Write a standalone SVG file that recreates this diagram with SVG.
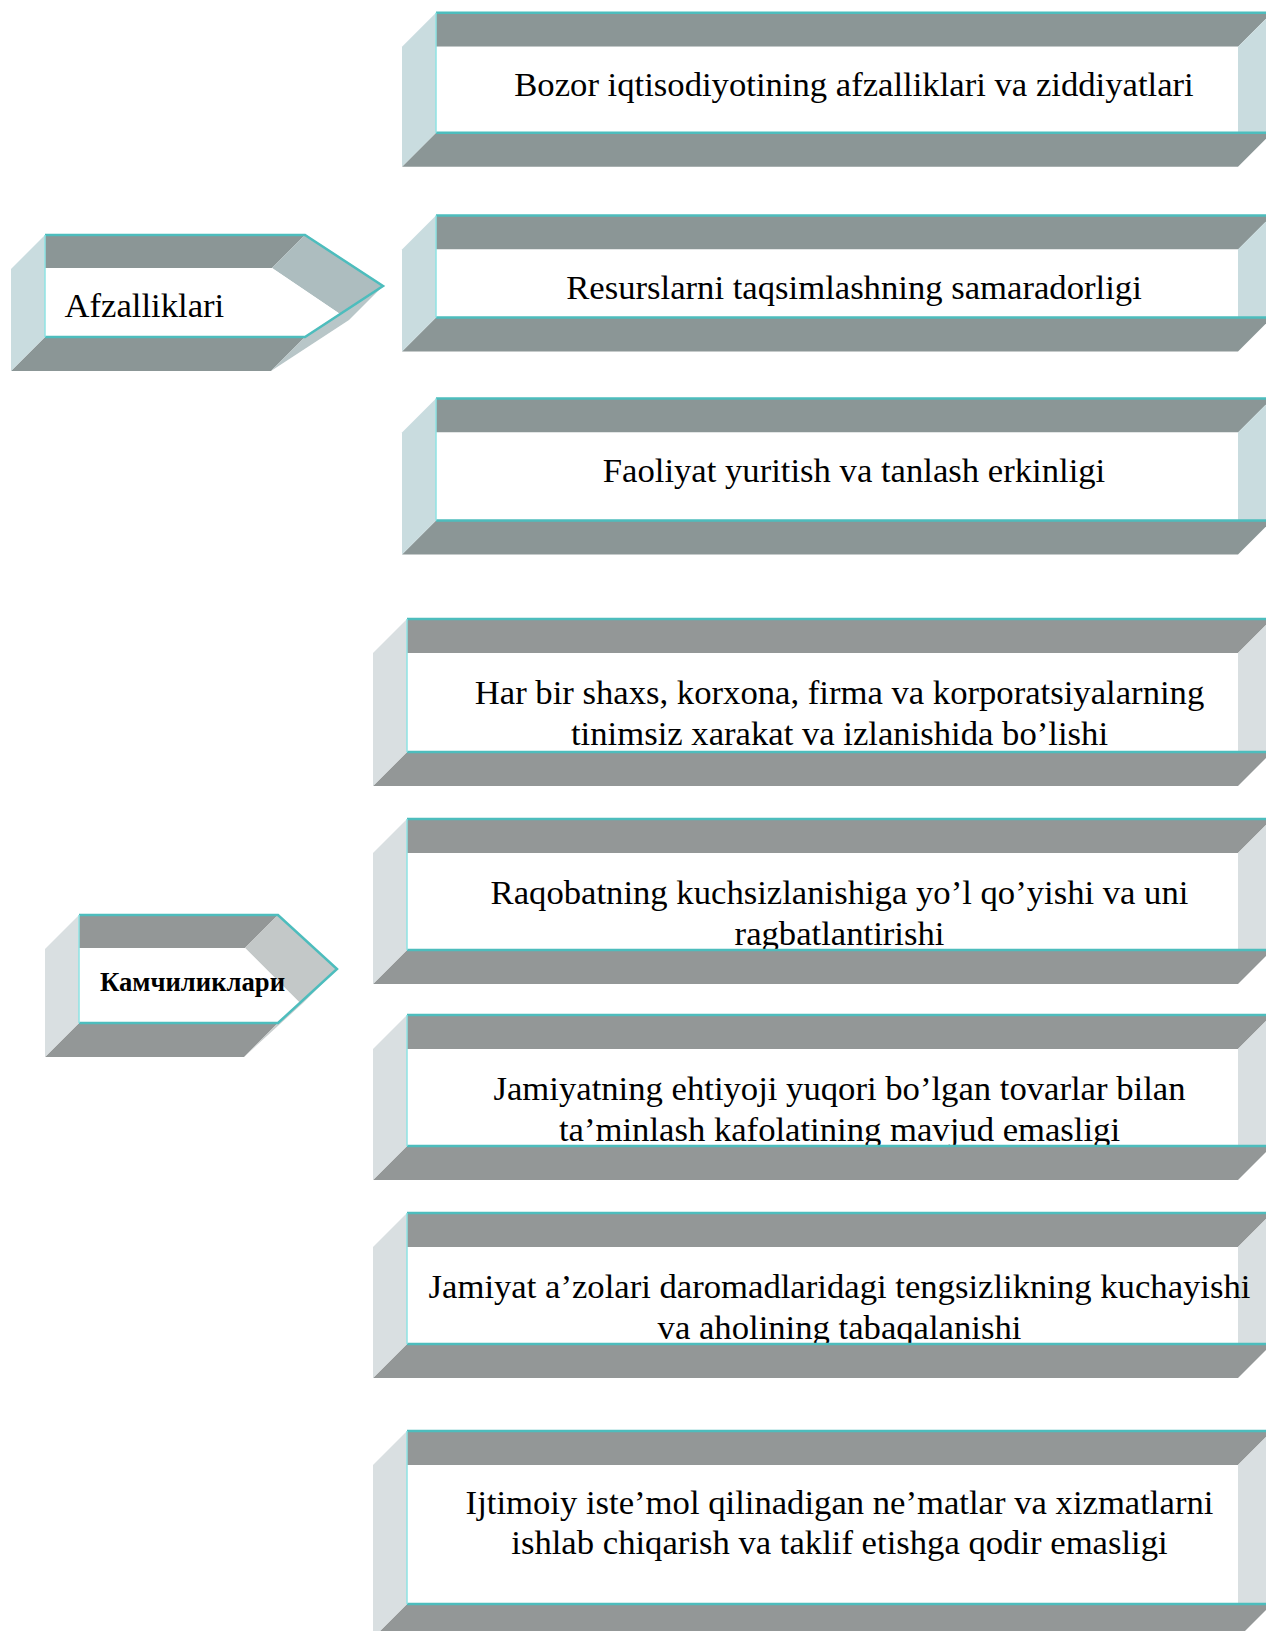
<svg xmlns="http://www.w3.org/2000/svg" width="1266" height="1631" viewBox="0 0 1266 1631">
<style>
.bandA{fill:#8b9696}
.sideA{fill:#c9dcdf}
.bandB{fill:#939797}
.sideB{fill:#d9dfe1}
.face{fill:#ffffff}
.edge{stroke:#4dbdbd;stroke-width:2.5;fill:none}
.edgeL{stroke:#8ee3e3;stroke-width:1.5;fill:none}
.txt{font-family:"Liberation Serif","Times New Roman",serif;font-size:34.67px;fill:#000;text-anchor:middle}
.lbl{font-family:"Liberation Serif","Times New Roman",serif;fill:#000}
</style>
<rect width="1266" height="1631" fill="#ffffff"/>

<g id="node-header">
<polygon class="bandA" points="436,12.7 1272,12.7 1238,46.7 436,46.7"/>
<polygon class="sideA" points="1238,46.7 1272,12.7 1272,132.7 1238,132.7"/>
<rect class="face" x="436" y="46.7" width="802" height="86"/>
<text class="txt" x="854" y="95.7">Bozor iqtisodiyotining afzalliklari va ziddiyatlari</text>
<polygon class="bandA" points="436,132.7 1272,132.7 1238,166.7 402,166.7"/>
<polygon class="sideA" points="402,46.7 436,12.7 436,132.7 402,166.7"/>
<path class="edge" d="M436,12.7H1272M436,132.7H1272"/>
<path class="edgeL" d="M436,12.7V132.7"/>
</g>

<g id="node-resurs">
<polygon class="bandA" points="436,215.5 1272,215.5 1238,249.5 436,249.5"/>
<polygon class="sideA" points="1238,249.5 1272,215.5 1272,317.5 1238,317.5"/>
<rect class="face" x="436" y="249.5" width="802" height="68"/>
<text class="txt" x="854" y="298.5">Resurslarni taqsimlashning samaradorligi</text>
<polygon class="bandA" points="436,317.5 1272,317.5 1238,351.5 402,351.5"/>
<polygon class="sideA" points="402,249.5 436,215.5 436,317.5 402,351.5"/>
<path class="edge" d="M436,215.5H1272M436,317.5H1272"/>
<path class="edgeL" d="M436,215.5V317.5"/>
</g>

<g id="node-faoliyat">
<polygon class="bandA" points="436,398.5 1272,398.5 1238,432.5 436,432.5"/>
<polygon class="sideA" points="1238,432.5 1272,398.5 1272,520.5 1238,520.5"/>
<rect class="face" x="436" y="432.5" width="802" height="88"/>
<text class="txt" x="854" y="481.5">Faoliyat yuritish va tanlash erkinligi</text>
<polygon class="bandA" points="436,520.5 1272,520.5 1238,554.5 402,554.5"/>
<polygon class="sideA" points="402,432.5 436,398.5 436,520.5 402,554.5"/>
<path class="edge" d="M436,398.5H1272M436,520.5H1272"/>
<path class="edgeL" d="M436,398.5V520.5"/>
</g>

<g id="node-afzalliklari">
<polygon class="bandA" points="45,235 305,235 272,268 45,268"/>
<polygon fill="#adbdbf" points="272,268 305,235 383,286 340,314"/>
<polygon class="face" points="45,268 272,268 340,314 305,337 45,337"/>
<polygon class="bandA" points="45,337 305,337 271,371 11,371"/>
<polygon fill="#b8c6c8" points="305,337 383,286 349,320 271,371"/>
<polygon class="sideA" points="11,269 45,235 45,337 11,371"/>
<path class="edge" d="M45,235H305L383,286L305,337H45"/>
<path class="edgeL" d="M45,235V337"/>
<text class="lbl" x="64.5" y="317.3" font-size="34.67">Afzalliklari</text>
</g>

<g id="node-har">
<polygon class="bandB" points="407,619 1272,619 1238,653 407,653"/>
<polygon class="sideB" points="1238,653 1272,619 1272,752 1238,752"/>
<rect class="face" x="407" y="653" width="831" height="99"/>
<text class="txt" x="839.5" y="704">Har bir shaxs, korxona, firma va korporatsiyalarning</text>
<text class="txt" x="839.5" y="744.5">tinimsiz xarakat va izlanishida bo’lishi</text>
<polygon class="bandB" points="407,752 1272,752 1238,786 373,786"/>
<polygon class="sideB" points="373,653 407,619 407,752 373,786"/>
<path class="edge" d="M407,619H1272M407,752H1272"/>
<path class="edgeL" d="M407,619V752"/>
</g>

<g id="node-raqobat">
<polygon class="bandB" points="407,819 1272,819 1238,853 407,853"/>
<polygon class="sideB" points="1238,853 1272,819 1272,950 1238,950"/>
<rect class="face" x="407" y="853" width="831" height="97"/>
<text class="txt" x="839.5" y="904">Raqobatning kuchsizlanishiga yo’l qo’yishi va uni</text>
<text class="txt" x="839.5" y="944.5">ragbatlantirishi</text>
<polygon class="bandB" points="407,950 1272,950 1238,984 373,984"/>
<polygon class="sideB" points="373,853 407,819 407,950 373,984"/>
<path class="edge" d="M407,819H1272M407,950H1272"/>
<path class="edgeL" d="M407,819V950"/>
</g>

<g id="node-jamiyatning">
<polygon class="bandB" points="407,1015 1272,1015 1238,1049 407,1049"/>
<polygon class="sideB" points="1238,1049 1272,1015 1272,1146 1238,1146"/>
<rect class="face" x="407" y="1049" width="831" height="97"/>
<text class="txt" x="839.5" y="1100">Jamiyatning ehtiyoji yuqori bo’lgan tovarlar bilan</text>
<text class="txt" x="839.5" y="1141">ta’minlash kafolatining mavjud emasligi</text>
<polygon class="bandB" points="407,1146 1272,1146 1238,1180 373,1180"/>
<polygon class="sideB" points="373,1049 407,1015 407,1146 373,1180"/>
<path class="edge" d="M407,1015H1272M407,1146H1272"/>
<path class="edgeL" d="M407,1015V1146"/>
</g>

<g id="node-azolari">
<polygon class="bandB" points="407,1213 1272,1213 1238,1247 407,1247"/>
<polygon class="sideB" points="1238,1247 1272,1213 1272,1344 1238,1344"/>
<rect class="face" x="407" y="1247" width="831" height="97"/>
<text class="txt" x="839.5" y="1298">Jamiyat a’zolari daromadlaridagi tengsizlikning kuchayishi</text>
<text class="txt" x="839.5" y="1339">va aholining tabaqalanishi</text>
<polygon class="bandB" points="407,1344 1272,1344 1238,1378 373,1378"/>
<polygon class="sideB" points="373,1247 407,1213 407,1344 373,1378"/>
<path class="edge" d="M407,1213H1272M407,1344H1272"/>
<path class="edgeL" d="M407,1213V1344"/>
</g>

<g id="node-ijtimoiy">
<polygon class="bandB" points="407,1431 1272,1431 1238,1465 407,1465"/>
<polygon class="sideB" points="1238,1465 1272,1431 1272,1604 1238,1604"/>
<rect class="face" x="407" y="1465" width="831" height="139"/>
<text class="txt" x="839.5" y="1514">Ijtimoiy iste’mol qilinadigan ne’matlar va xizmatlarni</text>
<text class="txt" x="839.5" y="1554">ishlab chiqarish va taklif etishga qodir emasligi</text>
<polygon class="bandB" points="407,1604 1272,1604 1238,1638 373,1638"/>
<polygon class="sideB" points="373,1465 407,1431 407,1604 373,1638"/>
<path class="edge" d="M407,1431H1272M407,1604H1272"/>
<path class="edgeL" d="M407,1431V1604"/>
</g>

<g id="node-kamchiliklari">
<polygon class="bandB" points="79,915 278,915 245,948 79,948"/>
<polygon fill="#c3c8c8" points="245,948 278,915 337,969 300,1003"/>
<polygon class="face" points="79,948 245,948 300,1003 278,1023 79,1023"/>
<polygon class="bandB" points="79,1023 278,1023 244,1057 45,1057"/>
<polygon fill="#c9cece" points="278,1023 337,969 303,1003 244,1057"/>
<polygon class="sideB" points="45,949 79,915 79,1023 45,1057"/>
<path class="edge" d="M79,915H278L337,969L278,1023H79"/>
<path class="edgeL" d="M79,915V1023"/>
<text class="lbl" x="100" y="991" font-size="26.67" font-weight="bold">Камчиликлари</text>
</g>

<g id="connectors"></g>
</svg>
